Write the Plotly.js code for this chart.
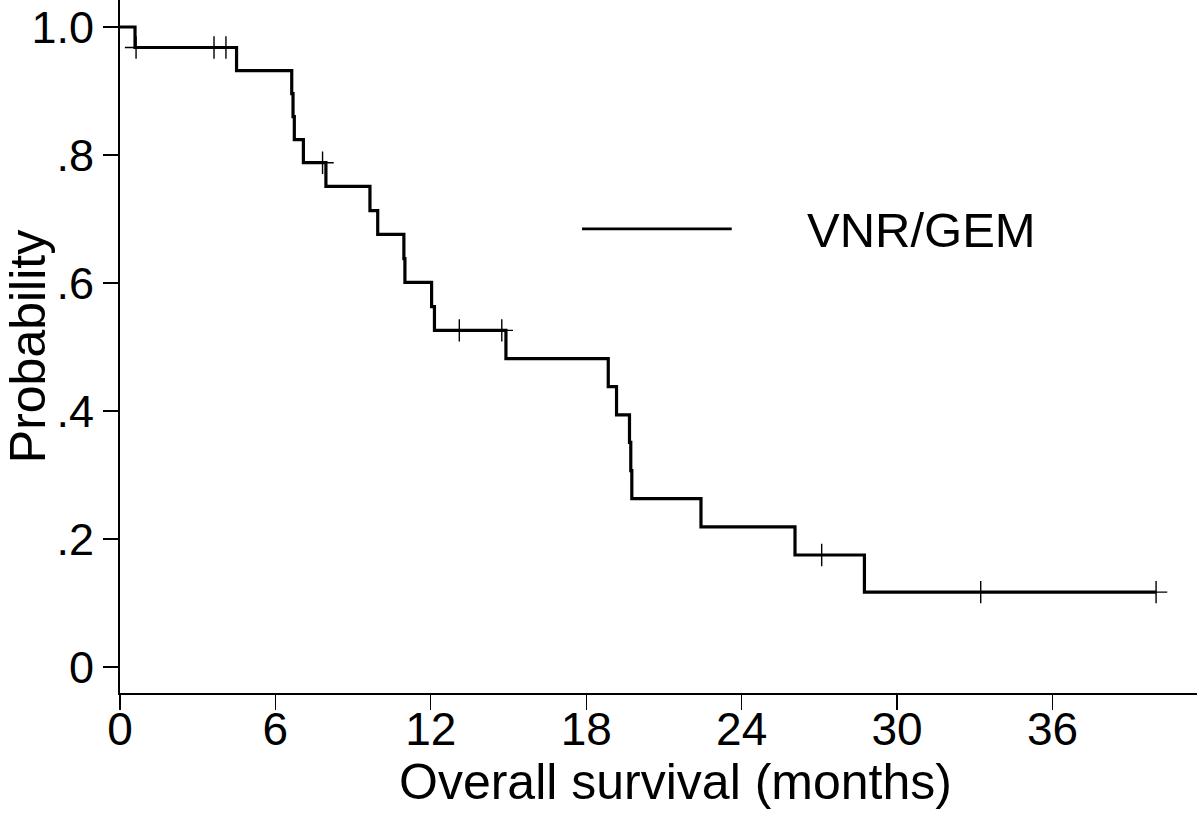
<!DOCTYPE html>
<html>
<head>
<meta charset="utf-8">
<script src="https://cdn.plot.ly/plotly-3.0.1.min.js"></script>
<style>html,body{margin:0;padding:0;background:#fff;}#chart{width:1200px;height:817px;}</style>
</head>
<body>
<div id="chart"></div>
<script>
// Kaplan-Meier curve
const stepTimes = [0, 0.58, 4.5, 6.63, 6.68, 6.73, 7.08, 7.95, 9.65, 9.95, 10.96, 11.0, 12.03, 12.14, 14.9, 18.85, 19.17, 19.67, 19.72, 19.76, 22.43, 26.06, 28.74, 40.0];
const stepSurv  = [1.0, 0.968, 0.932, 0.896, 0.860, 0.824, 0.788, 0.751, 0.713, 0.676, 0.638, 0.601, 0.563, 0.526, 0.482, 0.438, 0.394, 0.351, 0.307, 0.263, 0.219, 0.175, 0.117, 0.117];
// censored observations
const censorTimes = [0.62, 3.63, 4.09, 7.82, 13.1, 14.74, 27.09, 33.23, 40.0];
const censorSurv  = [0.968, 0.968, 0.968, 0.788, 0.526, 0.526, 0.175, 0.117, 0.117];
// axis ticks
const xTicks = [0, 6, 12, 18, 24, 30, 36];
const yTicks = [0, 0.2, 0.4, 0.6, 0.8, 1.0];
const yTickText = ['0', '.2', '.4', '.6', '.8', '1.0'];
const seriesName = 'VNR/GEM';
const xTitle = 'Overall survival (months)';
const yTitle = 'Probability';

const FONT = 'Liberation Sans, Arial, Helvetica, sans-serif';

const traces = [
  {
    x: stepTimes, y: stepSurv, type: 'scatter', mode: 'lines',
    line: {shape: 'hv', color: '#000', width: 3.2},
    name: seriesName, showlegend: false, hoverinfo: 'skip'
  },
  {
    x: censorTimes, y: censorSurv, type: 'scatter', mode: 'markers',
    marker: {symbol: 'cross-thin', size: 16, color: '#000', line: {color: '#000', width: 1.4}},
    showlegend: false, hoverinfo: 'skip'
  }
];

const layout = {
  width: 1200, height: 817,
  margin: {l: 120, r: 3, t: 0, b: 124, pad: 0},
  paper_bgcolor: '#fff', plot_bgcolor: '#fff',
  font: {family: FONT, color: '#000'},
  showlegend: false,
  xaxis: {
    range: [0, 41.58], tickvals: xTicks, ticktext: xTicks.map(String),
    ticks: 'outside', ticklen: 15, tickwidth: 1.2, tickcolor: '#000',
    showline: true, linewidth: 2, linecolor: '#000',
    showgrid: false, zeroline: false, ticklabelstandoff: -20,
    tickfont: {family: FONT, size: 46, color: '#000'}
  },
  yaxis: {
    range: [-0.0406, 1.0422], tickvals: yTicks, ticktext: yTickText,
    ticks: 'outside', ticklen: 15, tickwidth: 1.2, tickcolor: '#000',
    showline: true, linewidth: 2, linecolor: '#000',
    showgrid: false, zeroline: false,
    tickfont: {family: FONT, size: 45, color: '#000'},
    title: {text: yTitle, font: {family: FONT, size: 50, color: '#000'}, standoff: 8}
  },
  shapes: [
    {type: 'line', xref: 'paper', yref: 'paper', x0: 0.429, x1: 0.568, y0: 0.6696, y1: 0.6696,
     line: {color: '#000', width: 2.8}}
  ],
  annotations: [
    {xref: 'paper', yref: 'paper', x: 0.636, y: 0.6676, xanchor: 'left', yanchor: 'middle',
     text: seriesName, showarrow: false, font: {family: FONT, size: 49, color: '#000'}},
    {xref: 'paper', yref: 'paper', x: 0.516, y: -0.1284, xanchor: 'center', yanchor: 'middle',
     text: xTitle, showarrow: false, font: {family: FONT, size: 50, color: '#000'}}
  ]
};

Plotly.newPlot('chart', traces, layout, {displayModeBar: false, staticPlot: true});
</script>
</body>
</html>
